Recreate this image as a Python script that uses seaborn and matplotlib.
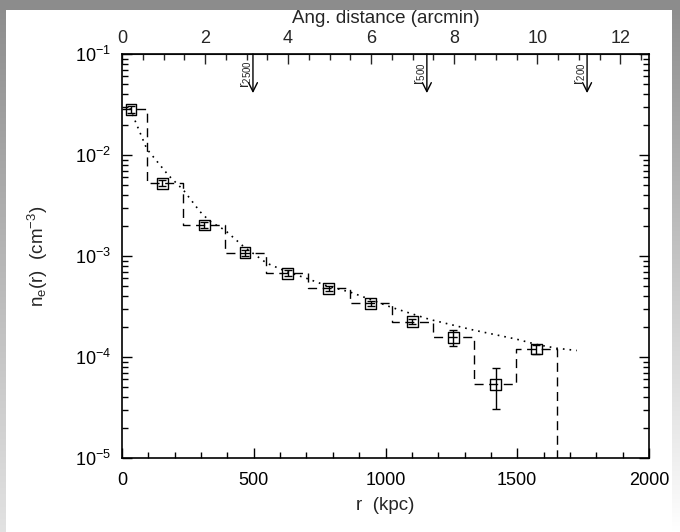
import numpy as np
import pandas as pd
import matplotlib
matplotlib.use("Agg")
import matplotlib.pyplot as plt
import seaborn as sns

# ---- data ----
r_kpc = [34, 153, 312, 467, 629, 784, 944, 1102, 1257, 1418, 1573]
ne = [2.83e-2, 5.25e-3, 2.03e-3, 1.08e-3, 6.75e-4, 4.78e-4, 3.40e-4, 2.24e-4, 1.57e-4, 5.37e-5, 1.20e-4]
ne_lo = [2.6e-2, 4.9e-3, 1.9e-3, 1.0e-3, 6.3e-4, 4.5e-4, 3.2e-4, 2.1e-4, 1.29e-4, 3.03e-5, 1.06e-4]
ne_hi = [3.05e-2, 5.6e-3, 2.15e-3, 1.15e-3, 7.2e-4, 5.05e-4, 3.6e-4, 2.38e-4, 1.85e-4, 7.72e-5, 1.32e-4]
step_edges = [0, 96, 233, 391, 545, 707, 865, 1026, 1179, 1337, 1494, 1650]
step_levels = [2.83e-2, 5.25e-3, 2.03e-3, 1.08e-3, 6.75e-4, 4.78e-4, 3.40e-4, 2.24e-4, 1.57e-4, 5.37e-5, 1.20e-4, 1e-7]
model_r = [30, 94, 176, 233, 296, 334, 391, 460, 549, 625, 701, 784, 865, 944, 1023,
           1169, 1333, 1498, 1574, 1650, 1726]
model_ne = [2.9e-2, 1.15e-2, 6.3e-3, 4.5e-3, 2.75e-3, 2.2e-3, 1.8e-3, 1.25e-3, 8.5e-4, 7.0e-4, 6.0e-4,
            5.0e-4, 4.4e-4, 3.7e-4, 3.1e-4, 2.35e-4, 1.85e-4, 1.5e-4, 1.33e-4, 1.22e-4, 1.16e-4]
arrow_r = [497, 1157, 1765]
arrow_labels = ["r$_{2500}$", "r$_{500}$", "r$_{200}$"]
kpc_per_arcmin = 157.6
x_ticks = [0, 500, 1000, 1500, 2000]
top_ticks = [0, 2, 4, 6, 8, 10, 12]

sns.set_style("ticks")
plt.rcParams['font.family'] = ['Liberation Sans', 'DejaVu Sans']
plt.rcParams['mathtext.fontset'] = 'custom'
plt.rcParams['mathtext.rm'] = 'Liberation Sans'
plt.rcParams['mathtext.it'] = 'Liberation Sans'
plt.rcParams['mathtext.bf'] = 'Liberation Sans'

fig = plt.figure(figsize=(6.8, 5.32), dpi=100)
fig.patch.set_facecolor('white')

# decorative gray frame (top band and gradient side bands)
grad = np.linspace(0, 1, 256).reshape(-1, 1)
bg_left = fig.add_axes([0, 0, 6 / 680, 1])
bg_left.set_axis_off()
bg_left.imshow(grad, aspect='auto', cmap=matplotlib.colors.LinearSegmentedColormap.from_list('g', ['#8c8c8c', '#e2e2e2']), extent=[0, 1, 0, 1], origin='upper')
bg_right = fig.add_axes([1 - 8 / 680, 0, 8 / 680, 1])
bg_right.set_axis_off()
bg_right.imshow(grad, aspect='auto', cmap=matplotlib.colors.LinearSegmentedColormap.from_list('g2', ['#8c8c8c', '#ffffff']), extent=[0, 1, 0, 1], origin='upper')
bg_top = fig.add_axes([0, 1 - 10 / 532, 1, 10 / 532])
bg_top.set_axis_off()
bg_top.add_patch(plt.Rectangle((0, 0), 1, 1, color='#8c8c8c', transform=bg_top.transAxes))

ax = fig.add_axes([122 / 680, 1 - 458 / 532, (649 - 122) / 680, (458 - 54) / 532])
ax.set_facecolor('white')

step_df = pd.DataFrame({"r": step_edges, "ne": step_levels})
sns.lineplot(data=step_df, x="r", y="ne", ax=ax, drawstyle='steps-post', color='black',
             linestyle=(0, (6.5, 4)), linewidth=1.0, estimator=None, sort=False)
model_df = pd.DataFrame({"r": model_r, "ne": model_ne})
sns.lineplot(data=model_df, x="r", y="ne", ax=ax, color='black', linestyle=(0, (1, 3)),
             linewidth=1.2, estimator=None, sort=False)

ne_a = np.array(ne)
yerr = np.vstack([ne_a - np.array(ne_lo), np.array(ne_hi) - ne_a])
ax.errorbar(r_kpc, ne, yerr=yerr, fmt='none', ecolor='black', elinewidth=1.0, capsize=3, capthick=1.0)
pts_df = pd.DataFrame({"r": r_kpc, "ne": ne})
sns.scatterplot(data=pts_df, x="r", y="ne", ax=ax, marker='s', s=60, facecolor='none',
                edgecolor='black', linewidth=1.0, zorder=5)

ax.set_yscale('log')
ax.set_xlim(0, 2000)
ax.set_ylim(1e-5, 1e-1)
ax.set_xticks(x_ticks)
ax.set_xticks(np.arange(0, 2001, 100), minor=True)
ax.yaxis.set_minor_locator(matplotlib.ticker.LogLocator(base=10, subs=np.arange(2, 10)))
ax.tick_params(which='both', direction='in', top=False, right=True, labelsize=13, colors='black', width=1.0)
ax.tick_params(which='major', length=7, pad=10)
ax.tick_params(axis='y', which='major', pad=8)
ax.tick_params(which='minor', length=4)
for s in ax.spines.values():
    s.set_linewidth(1.2)
    s.set_color('black')
ax.set_xlabel("r  (kpc)", fontsize=13.5, labelpad=6)
ax.set_ylabel("n$_{\\rm e}$(r)  (cm$^{-3}$)", fontsize=13.5, labelpad=18)

top = ax.secondary_xaxis('top', functions=(lambda x: x / kpc_per_arcmin, lambda a: a * kpc_per_arcmin))
top.set_xticks(top_ticks)
top.xaxis.set_minor_locator(matplotlib.ticker.MultipleLocator(0.5))
top.tick_params(which='both', direction='in', labelsize=13, width=1.0)
top.tick_params(which='major', length=7, pad=5)
top.tick_params(which='minor', length=4)
top.set_xlabel("Ang. distance (arcmin)", fontsize=13.5, labelpad=5)

for xr, lab in zip(arrow_r, arrow_labels):
    ax.annotate("", xy=(xr, 4.1e-2), xytext=(xr, 1e-1),
                arrowprops=dict(arrowstyle='->', color='black', lw=1.0, mutation_scale=16, shrinkA=0, shrinkB=0))
    ax.text(xr - 24, 6.4e-2, lab, rotation=90, fontsize=10, ha='center', va='center')

fig.savefig("out.png", dpi=100)
